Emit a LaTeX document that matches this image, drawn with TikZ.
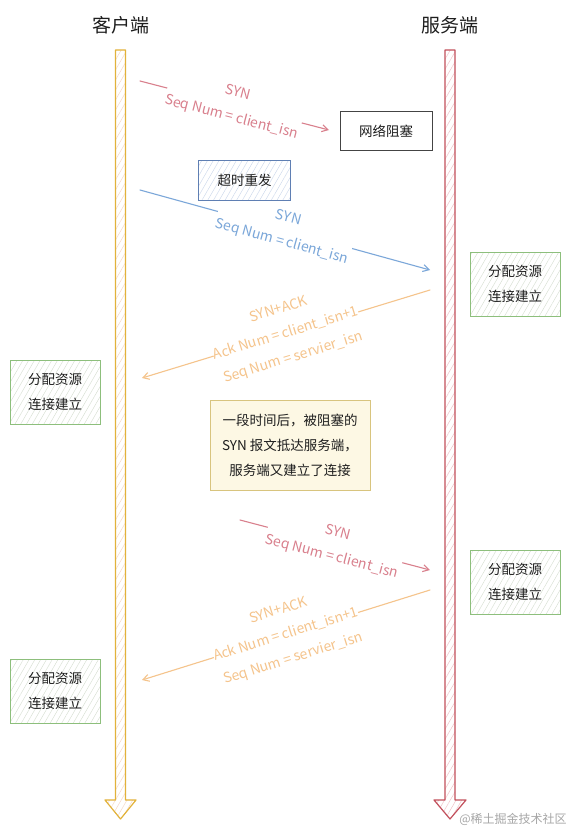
\documentclass[tikz,border=0pt]{standalone}
\usepackage{fontspec}
\setmainfont{Noto Sans CJK SC}
\usetikzlibrary{arrows.meta,patterns.meta}
\definecolor{ink}{HTML}{1E1E1E}
\definecolor{redmsg}{HTML}{D9808D}
\definecolor{bluemsg}{HTML}{7BA7D9}
\definecolor{orangemsg}{HTML}{F5C48C}
\definecolor{clientline}{HTML}{E2B23A}
\definecolor{clienthatch}{HTML}{F6D9C8}
\definecolor{serverline}{HTML}{C2505C}
\definecolor{serverhatch}{HTML}{F0C4C8}
\definecolor{greenline}{HTML}{8DBF7C}
\definecolor{greenhatch}{HTML}{D4DDCF}
\definecolor{blueline}{HTML}{5F7FB3}
\definecolor{bluehatch}{HTML}{C9D6EA}
\definecolor{noteline}{HTML}{D8C47E}
\definecolor{notefill}{HTML}{FDF8E4}
\definecolor{blockline}{HTML}{444444}
\begin{document}
\begin{tikzpicture}[x=1pt,y=-1pt,
  title/.style={font=\fontsize{19}{23}\selectfont, text=ink},
  boxtext/.style={align=center, font=\fontsize{13.5}{25}\selectfont, text=ink, inner sep=0pt},
  resbox/.style={boxtext, draw=greenline, line width=0.9pt, minimum width=90pt, minimum height=64pt,
    pattern={Lines[angle=60,distance=5pt,line width=0.4pt]}, pattern color=greenhatch},
  blockbox/.style={boxtext, draw=blockline, line width=0.9pt, minimum width=92pt, minimum height=39pt},
  retrybox/.style={boxtext, draw=blueline, line width=0.9pt, minimum width=92pt, minimum height=40pt,
    pattern={Lines[angle=60,distance=5pt,line width=0.4pt]}, pattern color=bluehatch},
  notebox/.style={boxtext, draw=noteline, fill=notefill, line width=0.9pt, minimum width=160pt, minimum height=90pt},
  msg/.style={line width=1.1pt, line cap=round, -{Straight Barb[length=6pt,width=7pt]}},
  msglabel/.style={midway, sloped, fill=white, inner sep=1pt, align=center, font=\fontsize{14}{25}\selectfont},
  timeline/.style={line width=1.2pt, line join=round,
    pattern={Lines[angle=60,distance=5pt,line width=0.5pt]}},
]
\fill[white] (0,0) rectangle (571,830);
\useasboundingbox (0,0) rectangle (571,830);

% titles
\node[title] (ctitle) at (120.5,25) {客户端};
\node[title] (stitle) at (450,25) {服务端};

% timelines
\draw[timeline, draw=clientline, pattern color=clienthatch]
  (115.5,50) -- (125.5,50) -- (125.5,800) -- (136,800) -- (120.5,819) -- (105,800) -- (115.5,800) -- cycle;
\draw[timeline, draw=serverline, pattern color=serverhatch]
  (445,50) -- (455,50) -- (455,800) -- (466,800) -- (450,819) -- (434,800) -- (445,800) -- cycle;

% message endpoints
\coordinate (m1s) at (140,81);   \coordinate (m1e) at (329,130);
\coordinate (m2s) at (140,190);  \coordinate (m2e) at (430,270);
\coordinate (m3s) at (430,290);  \coordinate (m3e) at (142,378);
\coordinate (m4s) at (240,520);  \coordinate (m4e) at (430,570);
\coordinate (m5s) at (430,590);  \coordinate (m5e) at (142,680);

% messages
\draw[msg, draw=redmsg] (m1s) -- node[msglabel, text=redmsg] {SYN\\Seq Num = client\_isn} (m1e);
\draw[msg, draw=bluemsg] (m2s) -- node[msglabel, text=bluemsg] {SYN\\Seq Num = client\_isn} (m2e);
\draw[msg, draw=orangemsg] (m3s) -- node[msglabel, text=orangemsg, inner sep=0pt] {SYN+ACK\\Ack Num = client\_isn+1\\Seq Num = servier\_isn} (m3e);
\draw[msg, draw=redmsg] (m4s) -- node[msglabel, text=redmsg] {SYN\\Seq Num = client\_isn} (m4e);
\draw[msg, draw=orangemsg] (m5s) -- node[msglabel, text=orangemsg, inner sep=0pt] {SYN+ACK\\Ack Num = client\_isn+1\\Seq Num = servier\_isn} (m5e);

% boxes (drawn after the messages so label masks never cover them)
\node[blockbox] (block) at (386,131) {网络阻塞};
\node[retrybox] (retry) at (244.5,180) {超时重发};
\node[resbox] (sres1) at (515,284) {分配资源\\连接建立};
\node[resbox] (cres1) at (55,392) {分配资源\\连接建立};
\node[notebox] (note) at (290,445) {一段时间后，被阻塞的\\SYN 报文抵达服务端，\\服务端又建立了连接};
\node[resbox] (sres2) at (515,582) {分配资源\\连接建立};
\node[resbox] (cres2) at (55,691) {分配资源\\连接建立};

% watermark
\node[font=\fontsize{12}{14}\selectfont, text=gray!70] (wm) at (513,819) {@稀土掘金技术社区};
\end{tikzpicture}
\end{document}
